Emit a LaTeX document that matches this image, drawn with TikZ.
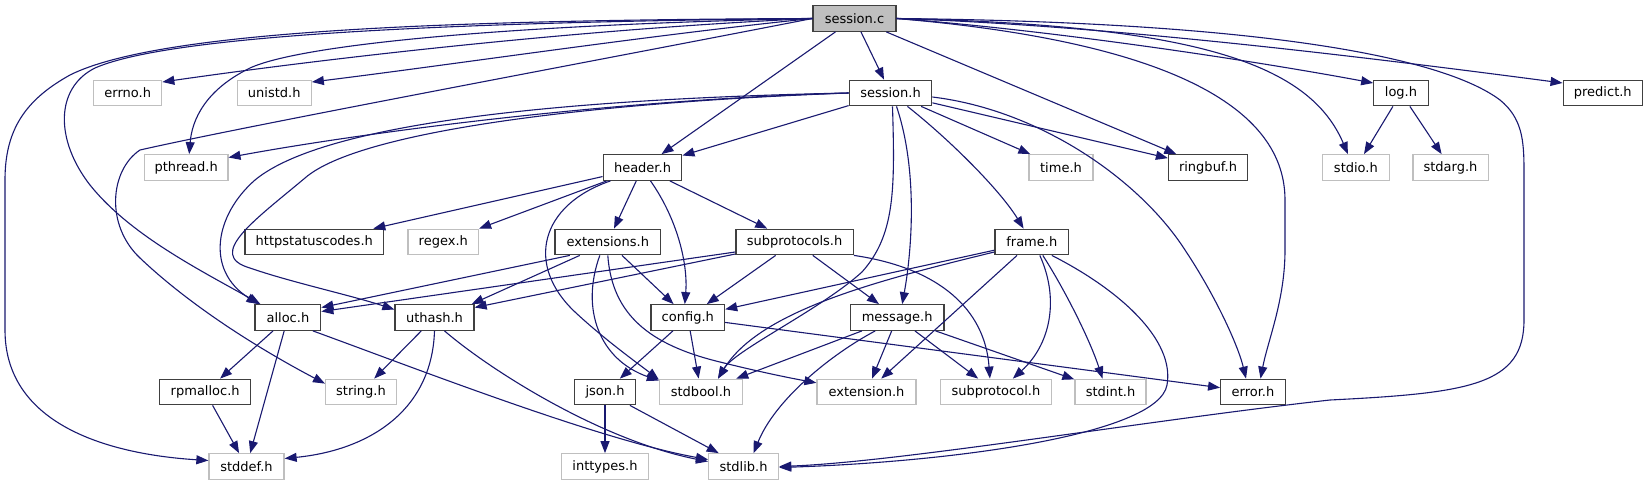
\documentclass[tikz,border=0pt]{standalone}
\usepackage{fontspec}
\setmainfont{DejaVu Sans}
\usetikzlibrary{arrows.meta}
\definecolor{edgec}{HTML}{191970}
\definecolor{docb}{HTML}{404040}
\definecolor{extb}{HTML}{BFBFBF}
\definecolor{rootf}{HTML}{BFBFBF}
\begin{document}
\begin{tikzpicture}[x=1pt,y=-1pt,
  box/.style={rectangle, minimum height=25.5pt, inner sep=0pt, font=\fontsize{13}{15}\selectfont, line width=1.3pt},
  doc/.style={box, draw=docb, fill=white},
  ext/.style={box, draw=extb, fill=white},
  root/.style={box, draw=docb, fill=rootf},
  dep/.style={draw=edgec, line width=1.1pt, -{Triangle[length=12pt,width=9pt]}}]
\useasboundingbox[fill=white] (0,0) rectangle (1647,485);
% nodes
\node[root, minimum width=83pt] (sessc) at (854.5,18.5) {session.c};
\node[ext, minimum width=68pt] (errno) at (127.7,93) {errno.h};
\node[ext, minimum width=74pt] (unistd) at (274.2,93) {unistd.h};
\node[doc, minimum width=82.5pt] (sessh) at (890.5,93) {session.h};
\node[doc, minimum width=54.4pt] (logh) at (1401,93) {log.h};
\node[doc, minimum width=79.2pt] (predict) at (1602.8,93) {predict.h};
\node[ext, minimum width=83.3pt] (pthread) at (186.2,167.5) {pthread.h};
\node[doc, minimum width=78.6pt] (header) at (642.5,167.5) {header.h};
\node[ext, minimum width=64pt] (timeh) at (1061,167.5) {time.h};
\node[doc, minimum width=78.9pt] (ringbuf) at (1208,167.5) {ringbuf.h};
\node[ext, minimum width=67.2pt] (stdio) at (1355.9,167.5) {stdio.h};
\node[ext, minimum width=75.3pt] (stdarg) at (1450.5,167.5) {stdarg.h};
\node[doc, minimum width=138.6pt] (https) at (314.3,242) {httpstatuscodes.h};
\node[ext, minimum width=70.6pt] (regex) at (443.3,242) {regex.h};
\node[doc, minimum width=105.7pt] (exts) at (607.8,242) {extensions.h};
\node[doc, minimum width=117.3pt] (subps) at (794.6,242) {subprotocols.h};
\node[doc, minimum width=73.7pt] (frame) at (1031.8,242) {frame.h};
\node[doc, minimum width=65.7pt] (alloc) at (287.9,317.5) {alloc.h};
\node[doc, minimum width=79pt] (uthash) at (434.5,317.5) {uthash.h};
\node[doc, minimum width=73.5pt] (config) at (687.8,317.5) {config.h};
\node[doc, minimum width=93.6pt] (message) at (897.2,317.5) {message.h};
\node[doc, minimum width=91pt] (rpm) at (205.2,392) {rpmalloc.h};
\node[ext, minimum width=70.7pt] (stringh) at (361,392) {string.h};
\node[doc, minimum width=61.5pt] (json) at (605,392) {json.h};
\node[ext, minimum width=83pt] (stdbool) at (701,392) {stdbool.h};
\node[ext, minimum width=99pt] (extn) at (866.5,392) {extension.h};
\node[ext, minimum width=111pt] (subp) at (995.9,392) {subprotocol.h};
\node[ext, minimum width=71pt] (stdint) at (1110.5,392) {stdint.h};
\node[doc, minimum width=64.6pt] (error) at (1253,392) {error.h};
\node[ext, minimum width=75pt] (stddef) at (246.5,466.5) {stddef.h};
\node[ext, minimum width=86.4pt] (inttypes) at (605,466.5) {inttypes.h};
\node[ext, minimum width=70pt] (stdlib) at (743.6,466.5) {stdlib.h};
% session.c
\draw[dep] (sessc.west) .. controls (450,20) and (160,30) .. (70,75) .. controls (25,100) and (5,130) .. (5,180) -- (5,330) .. controls (5,430) and (120,455) .. ([yshift=6pt]stddef.west);
\draw[dep] (sessc.west) .. controls (450,22) and (170,35) .. (95,68) .. controls (55,88) and (55,140) .. (90,185) .. controls (130,235) and (200,270) .. ([xshift=6pt]alloc.north west);
\draw[dep] (sessc.west) .. controls (600,60) and (250,125) .. (140,150) .. controls (110,170) and (105,225) .. (140,258) .. controls (200,315) and (280,360) .. ([yshift=-5pt]stringh.north west);
\draw[dep] (sessc.west) .. controls (500,25) and (300,45) .. (250,68) .. controls (205,90) and (192,120) .. ([xshift=3pt]pthread.north);
\draw[dep] (sessc.west) .. controls (600,28) and (350,55) .. ([yshift=11pt]errno.east);
\draw[dep] (sessc.west) .. controls (650,35) and (450,65) .. ([yshift=11pt]unistd.east);
\draw[dep] (sessc) -- (header);
\draw[dep] (sessc) -- (sessh);
\draw[dep] (sessc) -- (ringbuf);
\draw[dep] (sessc.east) .. controls (1050,30) and (1250,60) .. ([yshift=10pt]logh.west);
\draw[dep] (sessc.east) .. controls (1100,25) and (1350,55) .. ([yshift=10pt]predict.west);
\draw[dep] (sessc.east) .. controls (1200,25) and (1310,65) .. ([xshift=-8pt]stdio.north);
\draw[dep] (sessc.east) .. controls (1150,40) and (1285,100) .. (1285,200) -- (1285,250) .. controls (1285,300) and (1268,340) .. ([xshift=7.5pt]error.north);
\draw[dep] (sessc.east) .. controls (1250,22) and (1440,55) .. (1500,100) .. controls (1522,118) and (1524,140) .. (1524,170) -- (1524,320) .. controls (1524,385) and (1470,393) .. (1330,400) .. controls (1150,420) and (900,462) .. (stdlib.east);
% session.h
\draw[dep] (sessh.west) .. controls (600,100) and (350,135) .. ([yshift=10pt]pthread.east);
\draw[dep] (sessh.west) .. controls (600,98) and (330,118) .. (255,180) .. controls (215,215) and (205,270) .. ([xshift=4pt]alloc.north west);
\draw[dep] (sessh.west) .. controls (600,102) and (360,130) .. (305,178) .. controls (255,220) and (205,255) .. (250,268) .. controls (290,282) and (350,295) .. ([yshift=8pt]uthash.west);
\draw[dep] (sessh) -- (header);
\draw[dep] ([xshift=2pt]sessh.south) .. controls (895,190) and (895,235) .. (862,272) .. controls (820,310) and (735,350) .. ([xshift=17pt]stdbool.north);
\draw[dep] ([xshift=6pt]sessh.south) .. controls (918,170) and (912,250) .. ([xshift=5pt]message.north);
\draw[dep] (sessh) .. controls (950,140) and (1000,190) .. (frame);
\draw[dep] (sessh) -- (timeh);
\draw[dep] (sessh) -- (ringbuf);
\draw[dep] ([yshift=-4pt]sessh.east) .. controls (1040,110) and (1140,180) .. (1185,250) .. controls (1215,295) and (1238,345) .. ([xshift=-7pt]error.north);
% header.h
\draw[dep] (header) -- (https);
\draw[dep] (header) -- (regex);
\draw[dep] (header) -- (exts);
\draw[dep] ([xshift=8pt]header.south) .. controls (678,220) and (688,265) .. ([xshift=-3pt]config.north);
\draw[dep] (header) -- (subps);
\draw[dep] ([xshift=-32pt]header.south) .. controls (540,205) and (525,265) .. (575,312) .. controls (605,340) and (640,365) .. ([yshift=-1pt]stdbool.north west);
% extensions.h
\draw[dep] ([xshift=-38pt]exts.south) -- ([yshift=10pt]alloc.east);
\draw[dep] ([xshift=-28pt]exts.south) -- ([xshift=-3pt]uthash.north east);
\draw[dep] (exts) -- (config);
\draw[dep] ([xshift=-8pt]exts.south) .. controls (580,310) and (600,360) .. ([yshift=-2pt]stdbool.north west);
\draw[dep] (exts.south) .. controls (612,315) and (650,345) .. (720,362) .. controls (760,372) and (790,378) .. (extn);
% subprotocols.h
\draw[dep] ([yshift=-10pt]subps.west) -- ([yshift=6pt]alloc.east);
\draw[dep] ([yshift=-12pt]subps.west) -- ([yshift=10pt]uthash.east);
\draw[dep] (subps) -- (config);
\draw[dep] (subps) -- (message);
\draw[dep] (subps.south east) .. controls (940,268) and (985,310) .. ([xshift=-6pt]subp.north);
% frame.h
\draw[dep] (frame) -- (config);
\draw[dep] ([yshift=-10pt]frame.west) .. controls (880,280) and (760,310) .. ([xshift=17pt]stdbool.north);
\draw[dep] (frame) -- (extn);
\draw[dep] ([xshift=8pt]frame.south) .. controls (1060,300) and (1050,345) .. ([xshift=17pt]subp.north);
\draw[dep] ([xshift=11pt]frame.south) .. controls (1065,290) and (1090,340) .. ([xshift=-8pt]stdint.north);
\draw[dep] ([xshift=20pt]frame.south) .. controls (1120,290) and (1175,340) .. (1167,385) .. controls (1158,435) and (950,462) .. ([yshift=-1pt]stdlib.east);
% config.h
\draw[dep] (config) -- (json);
\draw[dep] (config) -- (stdbool);
\draw[dep] (config) -- (error);
% message.h
\draw[dep] (message) -- (stdbool);
\draw[dep] (message) -- (extn);
\draw[dep] (message) -- (subp);
\draw[dep] (message) -- (stdint);
\draw[dep] ([xshift=-22pt]message.south) .. controls (830,355) and (775,400) .. ([xshift=10pt]stdlib.north);
% alloc.h
\draw[dep] (alloc) -- (rpm);
\draw[dep] (alloc) -- (stddef);
\draw[dep] ([xshift=25pt]alloc.south) .. controls (420,370) and (600,440) .. ([yshift=7pt]stdlib.west);
% uthash.h
\draw[dep] (uthash) -- (stringh);
\draw[dep] (uthash.south) .. controls (432,410) and (370,450) .. ([yshift=8pt]stddef.east);
\draw[dep] ([xshift=10pt]uthash.south) .. controls (490,370) and (600,440) .. ([yshift=5pt]stdlib.west);
% others
\draw[dep] (rpm) -- (stddef);
\draw[dep] (json) -- (inttypes);
\draw[dep] (json) -- (stdlib);
\draw[dep] (logh) -- (stdio);
\draw[dep] (logh) -- (stdarg);
\end{tikzpicture}
\end{document}
